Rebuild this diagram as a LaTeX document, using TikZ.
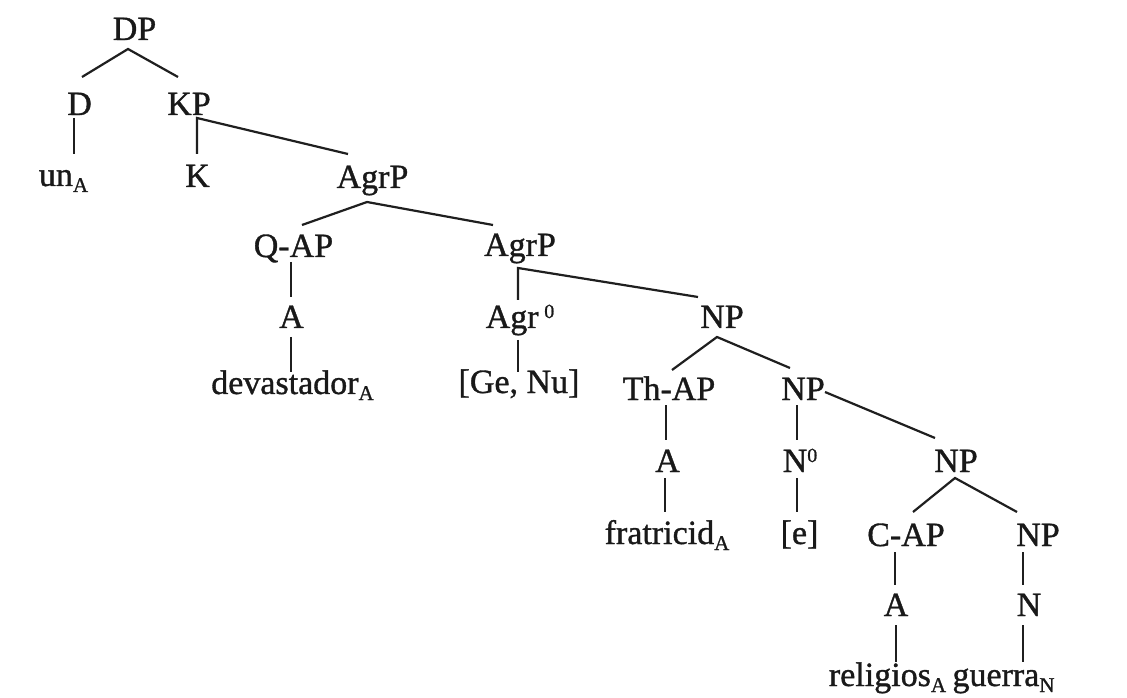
\documentclass[tikz,border=0pt]{standalone}
\usepackage{fontspec}
\setmainfont{Liberation Serif}[FakeBold=1.0]
\newcommand\mysub[1]{\raisebox{-6pt}{\fontsize{21}{21}\selectfont #1}}
\newcommand\mysup[1]{\raisebox{10pt}{\fontsize{20}{20}\selectfont #1}}
\begin{document}
\begin{tikzpicture}[x=1pt,y=1pt,
  lbl/.style={anchor=base,inner sep=0pt,font=\fontsize{34}{36}\selectfont,text=black!90},
  edge/.style={draw=black!88,line width=2.2pt}]
\useasboundingbox[fill=white] (0,0) rectangle (1127,697);
% nodes
\node[lbl] (DP) at (134.5,657) {DP};
\node[lbl] (D) at (79.5,582) {D};
\node[lbl] (KP) at (189,582) {KP};
\node[lbl] (un) at (63.5,511) {un\mysub{A}};
\node[lbl] (K) at (197.5,510) {K};
\node[lbl] (Agr1) at (372.5,509) {AgrP};
\node[lbl] (QAP) at (293.5,440) {Q-AP};
\node[lbl] (Agr2) at (520,441) {AgrP};
\node[lbl] (A1) at (291.5,369) {A};
\node[lbl] (Agr0) at (520,369) {Agr\,\mysup{0}};
\node[lbl] (dev) at (292.5,303) {devastador\mysub{A}};
\node[lbl] (GeNu) at (519,304) {[Ge, Nu]};
\node[lbl] (NP4) at (722,369) {NP};
\node[lbl] (ThAP) at (669,297) {Th-AP};
\node[lbl] (NP5) at (803,297) {NP};
\node[lbl] (A2) at (667.5,225) {A};
\node[lbl] (N0) at (800,225) {N\mysup{0}};
\node[lbl] (NP6) at (956,225) {NP};
\node[lbl] (frat) at (667,153) {fratricid\mysub{A}};
\node[lbl] (e) at (799.5,153) {[e]};
\node[lbl] (CAP) at (906,151) {C-AP};
\node[lbl] (NP7) at (1038,151) {NP};
\node[lbl] (A3) at (896,81) {A};
\node[lbl] (N) at (1029,81) {N};
\node[lbl] (rel) at (887.5,11) {religios\mysub{A}};
\node[lbl] (gue) at (1003.5,11) {guerra\mysub{N}};
% connectors
\draw[edge] ([shift={(2.5,38)}]D.base) -- ([shift={(-6.5,-9)}]DP.base) -- ([shift={(-11,38)}]KP.base);
\draw[edge] ([shift={(-5.5,-3)}]D.base) -- ([shift={(10.5,32)}]un.base);
\draw[edge] ([shift={(-0.5,33)}]K.base) -- ([shift={(8,-3)}]KP.base) -- ([shift={(-24.5,34)}]Agr1.base);
\draw[edge] ([shift={(8.5,32)}]QAP.base) -- ([shift={(-5.5,-14)}]Agr1.base) -- ([shift={(-27,31)}]Agr2.base);
\draw[edge] ([shift={(-2.5,-5)}]QAP.base) -- ([shift={(-0.5,31)}]A1.base);
\draw[edge] ([shift={(-0.5,-9)}]A1.base) -- ([shift={(-1.5,22)}]dev.base);
\draw[edge] ([shift={(-2,28)}]Agr0.base) -- ([shift={(-2,-12)}]Agr2.base) -- ([shift={(-24,31)}]NP4.base);
\draw[edge] ([shift={(-2,-12)}]Agr0.base) -- ([shift={(-1,21)}]GeNu.base);
\draw[edge] ([shift={(3,30)}]ThAP.base) -- ([shift={(-5,-9)}]NP4.base) -- ([shift={(-13,32)}]NP5.base);
\draw[edge] ([shift={(-3,-5)}]ThAP.base) -- ([shift={(-1.5,32)}]A2.base);
\draw[edge] ([shift={(-6,-5)}]NP5.base) -- ([shift={(-3,32)}]N0.base);
\draw[edge] ([shift={(22,8)}]NP5.base) -- ([shift={(-21,34)}]NP6.base);
\draw[edge] ([shift={(-2.5,-6)}]A2.base) -- ([shift={(-2,32)}]frat.base);
\draw[edge] ([shift={(-3,-6)}]N0.base) -- ([shift={(-2.5,32)}]e.base);
\draw[edge] ([shift={(7,34)}]CAP.base) -- ([shift={(-1,-6)}]NP6.base) -- ([shift={(-21,34)}]NP7.base);
\draw[edge] ([shift={(-11,-6)}]CAP.base) -- ([shift={(-1,31)}]A3.base);
\draw[edge] ([shift={(-15,-6)}]NP7.base) -- ([shift={(-6,31)}]N.base);
\draw[edge] ([shift={(0,-9)}]A3.base) -- ([shift={(8.5,24)}]rel.base);
\draw[edge] ([shift={(-6,-9)}]N.base) -- ([shift={(19.5,24)}]gue.base);
\end{tikzpicture}
\end{document}
